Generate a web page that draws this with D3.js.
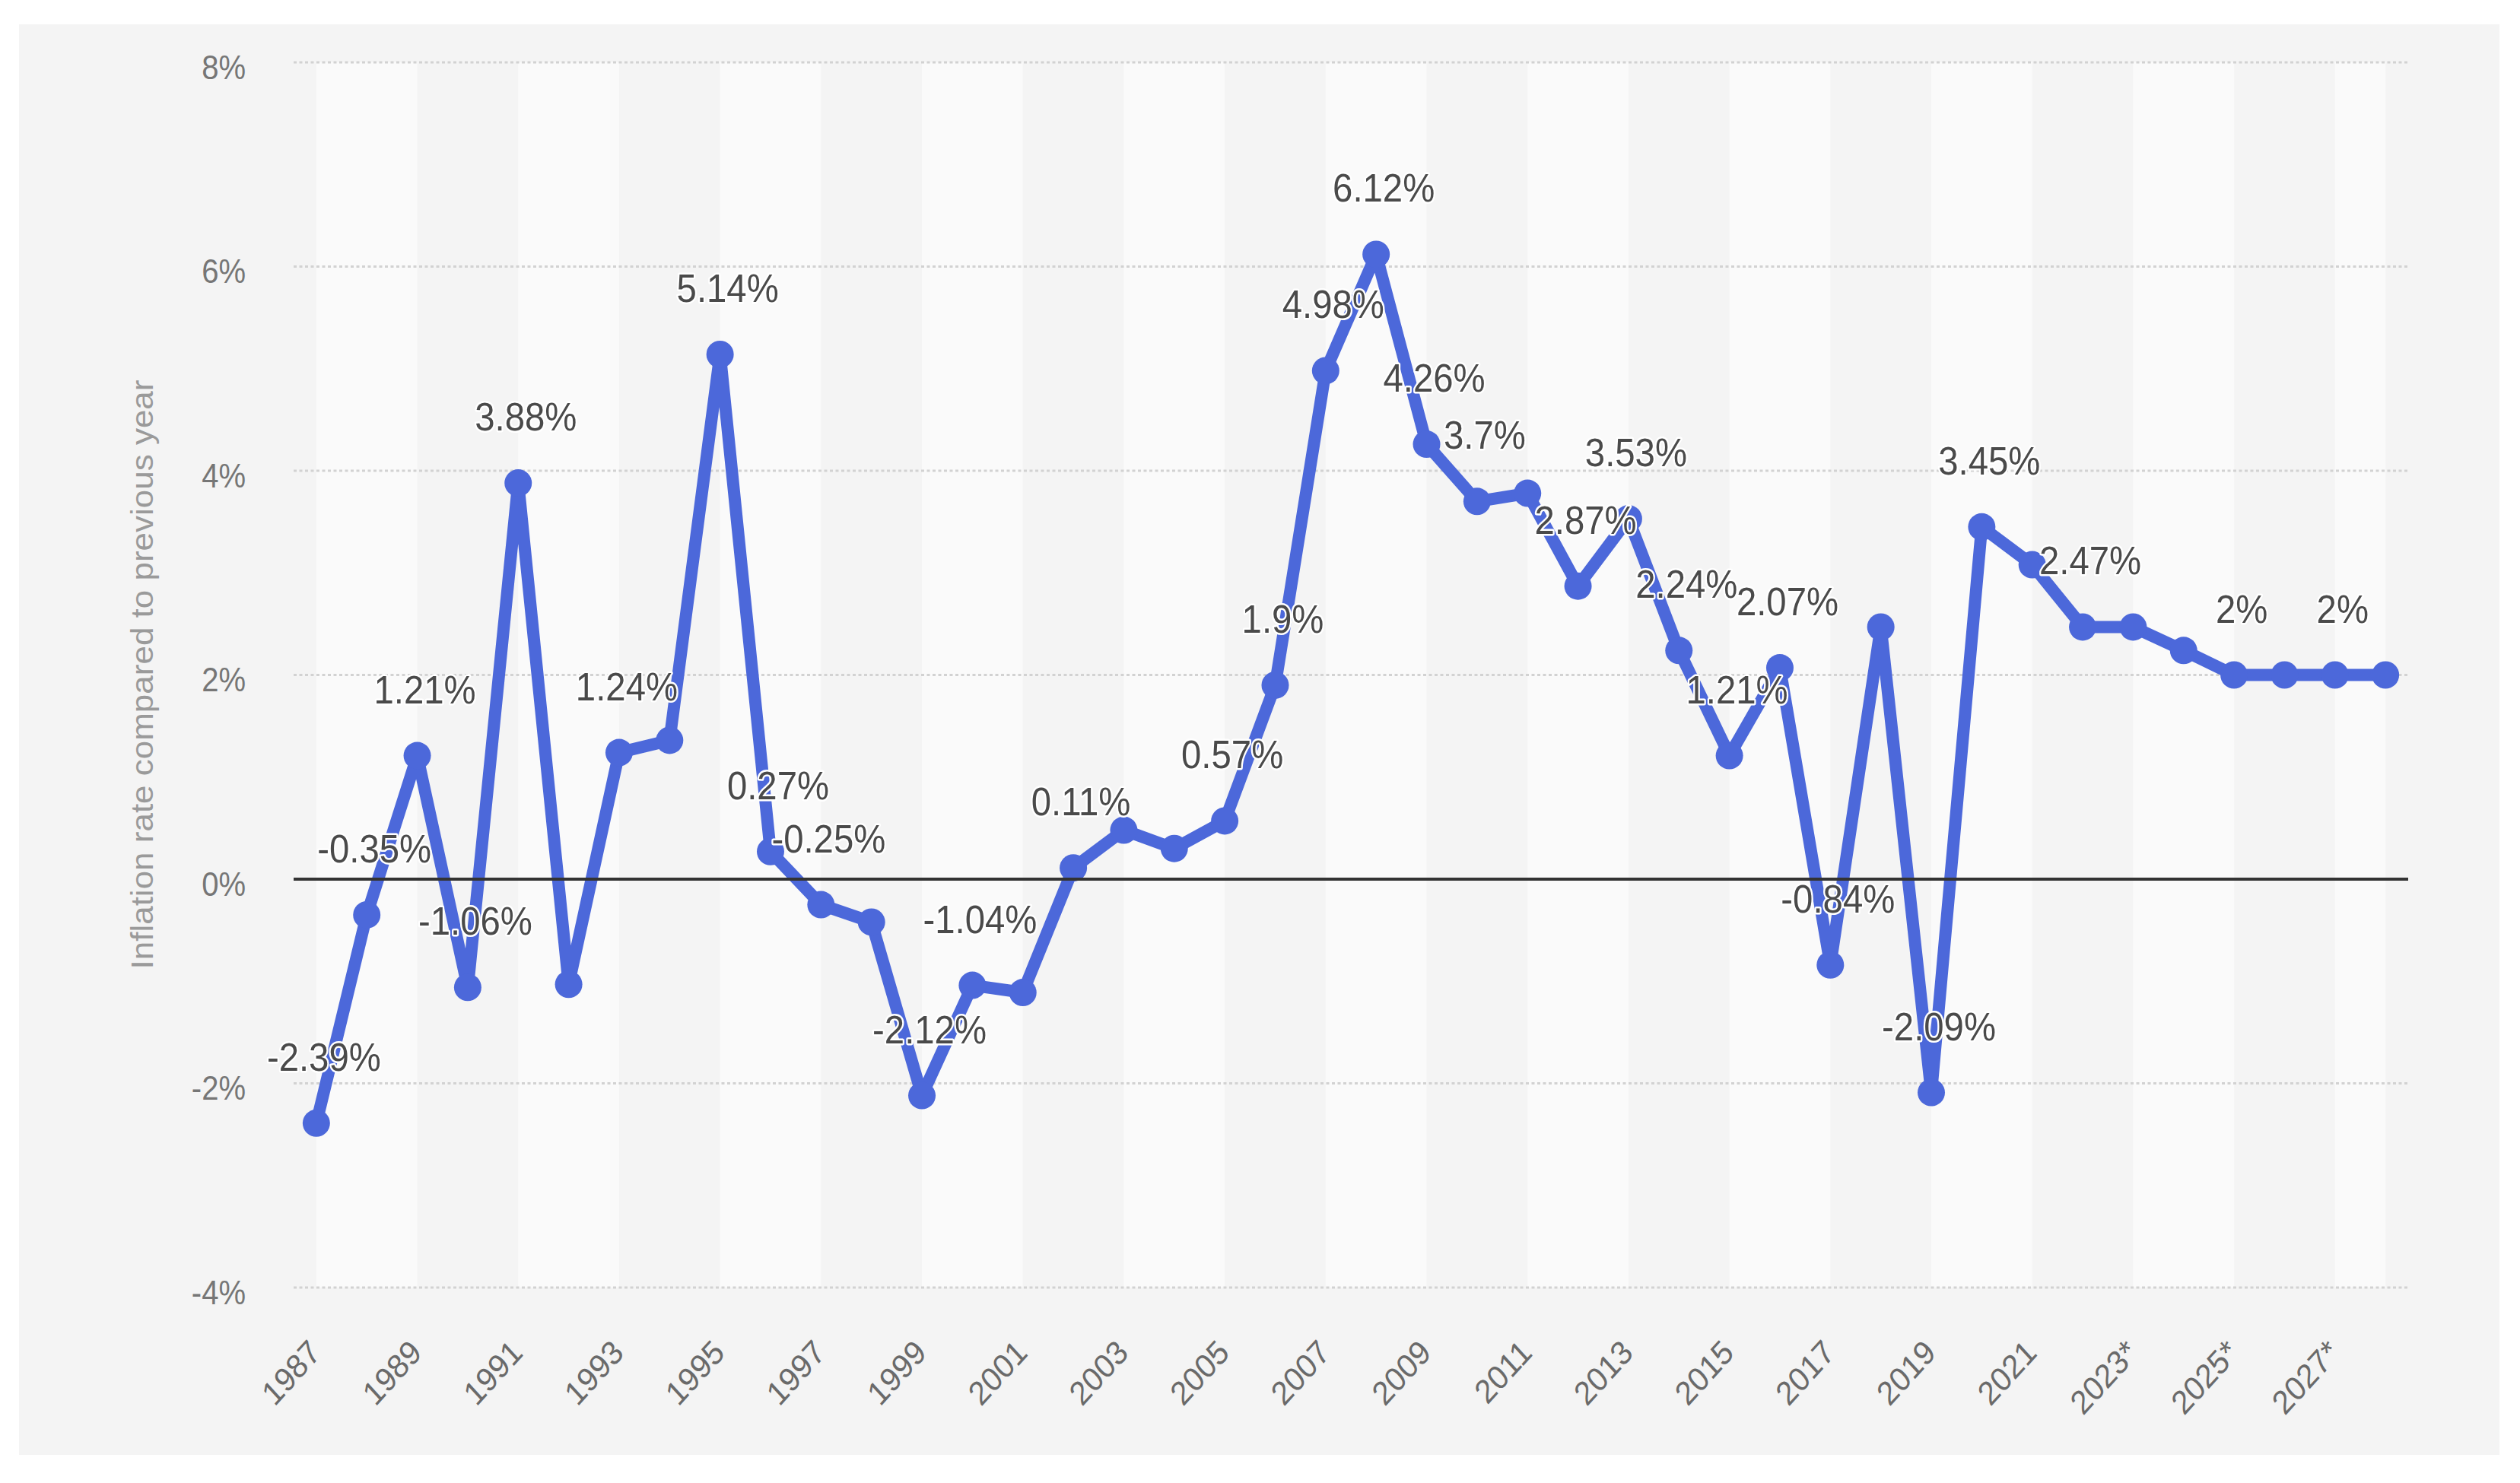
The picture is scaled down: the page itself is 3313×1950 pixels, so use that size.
<!DOCTYPE html>
<html>
<head>
<meta charset="utf-8">
<script src="https://cdn.jsdelivr.net/npm/d3@7"></script>
<style>
  body { margin: 0; background: #fff; }
  text { font-family: 'Liberation Sans', Arial, sans-serif; }
</style>
</head>
<body>
<svg id="chart" width="3313" height="1950"></svg>
<script>
const years = ['1987', '1988', '1989', '1990', '1991', '1992', '1993', '1994', '1995', '1996',
  '1997', '1998', '1999', '2000', '2001', '2002', '2003', '2004', '2005', '2006',
  '2007', '2008', '2009', '2010', '2011', '2012', '2013', '2014', '2015', '2016',
  '2017', '2018', '2019', '2020', '2021', '2022', '2023*', '2024*', '2025*', '2026*',
  '2027*', '2028*'];

const inflation = [-2.39, -0.35, 1.21, -1.06, 3.88, -1.03, 1.24, 1.36, 5.14, 0.27,
  -0.25, -0.42, -2.12, -1.04, -1.11, 0.11, 0.48, 0.3, 0.57, 1.9,
  4.98, 6.12, 4.26, 3.7, 3.78, 2.87, 3.53, 2.24, 1.21, 2.07,
  -0.84, 2.47, -2.09, 3.45, 3.08, 2.47, 2.47, 2.24, 2, 2,
  2, 2];

// years whose value label is visible in the original
const labelledYears = ['1987', '1988', '1989', '1990', '1991', '1993', '1995', '1996', '1997',
  '1999', '2000', '2002', '2005', '2006', '2007', '2008', '2009', '2010', '2012', '2013',
  '2014', '2015', '2016', '2017', '2019', '2020', '2022', '2025*', '2027*'];

const xTickLabels = years.filter((d, i) => i % 2 === 0);
const yTicks = [-4, -2, 0, 2, 4, 6, 8];
const yTitle = 'Inflation rate compared to previous year';

const textScale = 0.91;
const plot = { left: 386, right: 3166, top: 82, bottom: 1693 };

const svg = d3.select('#chart');

const x = d3.scalePoint()
  .domain(years)
  .range([plot.left, plot.right])
  .padding(0.45);

const y = d3.scaleLinear()
  .domain([-4, 8])
  .range([plot.bottom, plot.top]);

const points = years.map((year, i) => ({ year: year, value: inflation[i] }));

// panel background
svg.append('rect')
  .attr('x', 25)
  .attr('y', 32)
  .attr('width', 3261)
  .attr('height', 1881)
  .attr('fill', '#f4f4f4');

// alternating column bands, two years wide
const bandStarts = years.filter((d, i) => i % 4 === 0);
svg.append('g')
  .selectAll('rect')
  .data(bandStarts)
  .enter()
  .append('rect')
  .attr('x', (d) => x(d))
  .attr('y', plot.top)
  .attr('width', (d) => {
    const end = years[Math.min(years.indexOf(d) + 2, years.length - 1)];
    return x(end) - x(d);
  })
  .attr('height', plot.bottom - plot.top)
  .attr('fill', '#fafafa');

// horizontal grid
svg.append('g')
  .selectAll('line')
  .data(yTicks.filter((d) => d !== 0))
  .enter()
  .append('line')
  .attr('x1', plot.left)
  .attr('x2', plot.right)
  .attr('y1', (d) => y(d))
  .attr('y2', (d) => y(d))
  .attr('stroke', '#d2d2d2')
  .attr('stroke-width', 3)
  .attr('stroke-dasharray', '4,3.5');

// y axis labels
const yAxis = d3.axisLeft(y)
  .tickValues(yTicks)
  .tickSize(0)
  .tickPadding(0)
  .tickFormat((d) => `${d}%`);

const yAxisG = svg.append('g')
  .attr('transform', 'translate(323,0)')
  .call(yAxis);
yAxisG.select('.domain').remove();
yAxisG.selectAll('text')
  .attr('x', null)
  .attr('dy', null)
  .attr('transform', `translate(0,21) scale(${textScale},1)`)
  .attr('fill', '#767676')
  .style('font-size', '44px')
  .style('font-family', "'Liberation Sans', Arial, sans-serif");

// y axis title
svg.append('text')
  .attr('transform', `translate(201,887) scale(${textScale},1) rotate(-90)`)
  .attr('text-anchor', 'middle')
  .attr('fill', '#9a9a9a')
  .style('font-size', '44px')
  .text(yTitle);

// x axis labels, rotated
svg.append('g')
  .selectAll('text')
  .data(xTickLabels)
  .enter()
  .append('text')
  .attr('transform', (d) => `translate(${x(d) + 8},1781) scale(${textScale},1) rotate(-45)`)
  .attr('text-anchor', 'end')
  .attr('fill', '#6a6a6a')
  .style('font-size', '44px')
  .text((d) => d);

// series line
const line = d3.line()
  .x((d) => x(d.year))
  .y((d) => y(d.value));

svg.append('path')
  .datum(points)
  .attr('d', line)
  .attr('fill', 'none')
  .attr('stroke', '#4c68da')
  .attr('stroke-width', 16)
  .attr('stroke-linejoin', 'round');

svg.append('g')
  .selectAll('circle')
  .data(points)
  .enter()
  .append('circle')
  .attr('cx', (d) => x(d.year))
  .attr('cy', (d) => y(d.value))
  .attr('r', 18)
  .attr('fill', '#4c68da');

// zero line
svg.append('line')
  .attr('x1', plot.left)
  .attr('x2', plot.right)
  .attr('y1', y(0))
  .attr('y2', y(0))
  .attr('stroke', '#333')
  .attr('stroke-width', 4);

// value labels
svg.append('g')
  .selectAll('text')
  .data(points.filter((d) => labelledYears.includes(d.year)))
  .enter()
  .append('text')
  .attr('transform', (d) => `translate(${x(d.year) + 10},${y(d.value) - 69}) scale(${textScale},1)`)
  .attr('text-anchor', 'middle')
  .attr('fill', '#4a4a4a')
  .attr('stroke', '#fff')
  .attr('stroke-width', 5)
  .attr('stroke-linejoin', 'round')
  .attr('paint-order', 'stroke')
  .style('font-size', '52px')
  .text((d) => `${d.value}%`);
</script>
</body>
</html>
